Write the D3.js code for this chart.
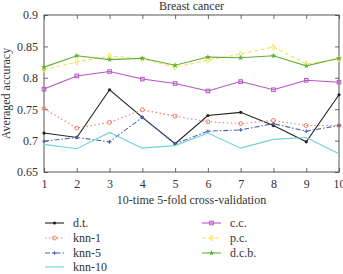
<!DOCTYPE html>
<html>
<head>
<meta charset="utf-8">
<script src="https://cdn.jsdelivr.net/npm/d3@7"></script>
<style>
  body { margin: 0; background: #fff; }
  text { font-family: "Liberation Serif", "DejaVu Serif", serif; fill: #333; }
</style>
</head>
<body>
<div id="chart"></div>
<script>
let runs = [1, 2, 3, 4, 5, 6, 7, 8, 9, 10];
let yTicks = [0.65, 0.7, 0.75, 0.8, 0.85, 0.9];

let dt    = [0.712, 0.705, 0.781, 0.737, 0.695, 0.740, 0.745, 0.724, 0.698, 0.773];
let knn1  = [0.751, 0.720, 0.729, 0.749, 0.739, 0.730, 0.727, 0.732, 0.724, 0.724];
let knn5  = [0.699, 0.705, 0.698, 0.737, 0.695, 0.715, 0.717, 0.727, 0.715, 0.724];
let knn10 = [0.694, 0.687, 0.713, 0.688, 0.692, 0.712, 0.688, 0.702, 0.705, 0.679];
let cc    = [0.782, 0.803, 0.810, 0.798, 0.791, 0.779, 0.794, 0.781, 0.796, 0.793];
let pc    = [0.813, 0.825, 0.835, 0.830, 0.817, 0.828, 0.838, 0.849, 0.822, 0.830];
let dcb   = [0.817, 0.835, 0.829, 0.831, 0.820, 0.833, 0.832, 0.835, 0.819, 0.831];

let series = [
  { name: "d.t.",   values: dt,    color: "#222",    dash: null,        marker: "dot" },
  { name: "knn-1",  values: knn1,  color: "#f0806a", dash: "1.5,2.5",   marker: "circle" },
  { name: "knn-5",  values: knn5,  color: "#4a62b8", dash: "5,2,1.5,2", marker: "plus" },
  { name: "knn-10", values: knn10, color: "#6fd3d6", dash: null,        marker: "none" },
  { name: "c.c.",   values: cc,    color: "#b455c2", dash: null,        marker: "square" },
  { name: "p.c.",   values: pc,    color: "#f2e45a", dash: "4,2.5",     marker: "diamond" },
  { name: "d.c.b.", values: dcb,   color: "#62b03a", dash: null,        marker: "star" }
];

let plotWidth = 343, plotHeight = 274;
let margin = { top: 15, right: 4, bottom: 102, left: 44 };
let width = plotWidth - margin.left - margin.right;
let height = plotHeight - margin.top - margin.bottom;

let svg = d3.select("#chart").append("svg")
  .attr("width", plotWidth)
  .attr("height", plotHeight);

let graph = svg.append("g")
  .attr("transform", `translate(${margin.left}, ${margin.top})`);

let xScale = d3.scaleLinear().domain([1, 10]).range([0, width]);
let yScale = d3.scaleLinear().domain([0.65, 0.9]).range([height, 0]);

// axes, ticks point inward
let xAxis = d3.axisBottom(xScale).tickValues(runs).tickSize(-4).tickPadding(7).tickFormat(d3.format("d"));
let yAxis = d3.axisLeft(yScale).tickValues(yTicks).tickSize(-4).tickPadding(6).tickFormat(d => d === 0.7 ? "0.7" : d === 0.8 ? "0.8" : d === 0.9 ? "0.9" : d3.format(".2f")(d));
let xTop = d3.axisTop(xScale).tickValues(runs).tickSize(-4).tickFormat("");
let yRight = d3.axisRight(yScale).tickValues(yTicks).tickSize(-4).tickFormat("");

function styleAxis(g) {
  g.select(".domain").remove();
  g.selectAll(".tick line").attr("stroke", "#444").attr("stroke-width", 0.8);
  g.selectAll(".tick text").attr("font-size", 12).attr("fill", "#333")
    .attr("font-family", "'Liberation Serif', serif");
}

graph.append("g").attr("transform", `translate(0, ${height})`).call(xAxis).call(styleAxis);
graph.append("g").call(yAxis).call(styleAxis);
graph.append("g").call(xTop).call(styleAxis);
graph.append("g").attr("transform", `translate(${width}, 0)`).call(yRight).call(styleAxis);

graph.append("rect")
  .attr("width", width).attr("height", height)
  .attr("fill", "none").attr("stroke", "#444").attr("stroke-width", 0.9);

let line = d3.line()
  .x((d, i) => xScale(runs[i]))
  .y(d => yScale(d));

function drawMarker(g, type, color, x, y) {
  if (type === "dot") {
    g.append("circle").attr("cx", x).attr("cy", y).attr("r", 1.6).attr("fill", color);
  } else if (type === "circle") {
    g.append("circle").attr("cx", x).attr("cy", y).attr("r", 2)
      .attr("fill", "none").attr("stroke", color).attr("stroke-width", 1);
  } else if (type === "plus") {
    g.append("path").attr("d", `M${x - 1.8},${y}H${x + 1.8}M${x},${y - 1.8}V${y + 1.8}`)
      .attr("stroke", color).attr("stroke-width", 1.1);
  } else if (type === "square") {
    g.append("rect").attr("x", x - 1.8).attr("y", y - 1.8).attr("width", 3.6).attr("height", 3.6)
      .attr("fill", "none").attr("stroke", color).attr("stroke-width", 1);
  } else if (type === "diamond") {
    g.append("path").attr("d", d3.symbol(d3.symbolDiamond, 11)())
      .attr("transform", `translate(${x},${y})`)
      .attr("fill", "none").attr("stroke", color).attr("stroke-width", 1);
  } else if (type === "star") {
    g.append("path").attr("d", d3.symbol(d3.symbolStar, 11)())
      .attr("transform", `translate(${x},${y})`)
      .attr("fill", color);
  }
}

series.forEach(function(s) {
  let g = graph.append("g");
  g.append("path")
    .datum(s.values)
    .attr("d", line)
    .attr("fill", "none")
    .attr("stroke", s.color)
    .attr("stroke-width", 1.1)
    .attr("stroke-dasharray", s.dash);
  s.values.forEach((v, i) => drawMarker(g, s.marker, s.color, xScale(runs[i]), yScale(v)));
});

// title and axis labels
svg.append("text")
  .attr("x", margin.left + width / 2).attr("y", 10)
  .attr("text-anchor", "middle").attr("font-size", 12)
  .text("Breast cancer");

svg.append("text")
  .attr("transform", `translate(10, ${margin.top + height / 2}) rotate(-90)`)
  .attr("text-anchor", "middle").attr("font-size", 12)
  .text("Averaged accuracy");

svg.append("text")
  .attr("x", margin.left + width / 2).attr("y", 204)
  .attr("text-anchor", "middle").attr("font-size", 12)
  .text("10-time 5-fold cross-validation");

// legend
let legendPos = [
  [45, 223], [45, 238], [45, 253], [45, 267],
  [202, 223], [202, 238], [202, 253]
];
series.forEach(function(s, i) {
  let [lx, ly] = legendPos[i];
  let g = svg.append("g");
  g.append("line")
    .attr("x1", lx).attr("x2", lx + 19).attr("y1", ly).attr("y2", ly)
    .attr("stroke", s.color).attr("stroke-width", 1.1)
    .attr("stroke-dasharray", s.dash);
  drawMarker(g, s.marker, s.color, lx + 9.5, ly);
  g.append("text")
    .attr("x", lx + 28).attr("y", ly + 4)
    .attr("font-size", 12)
    .text(s.name);
});
</script>
</body>
</html>
